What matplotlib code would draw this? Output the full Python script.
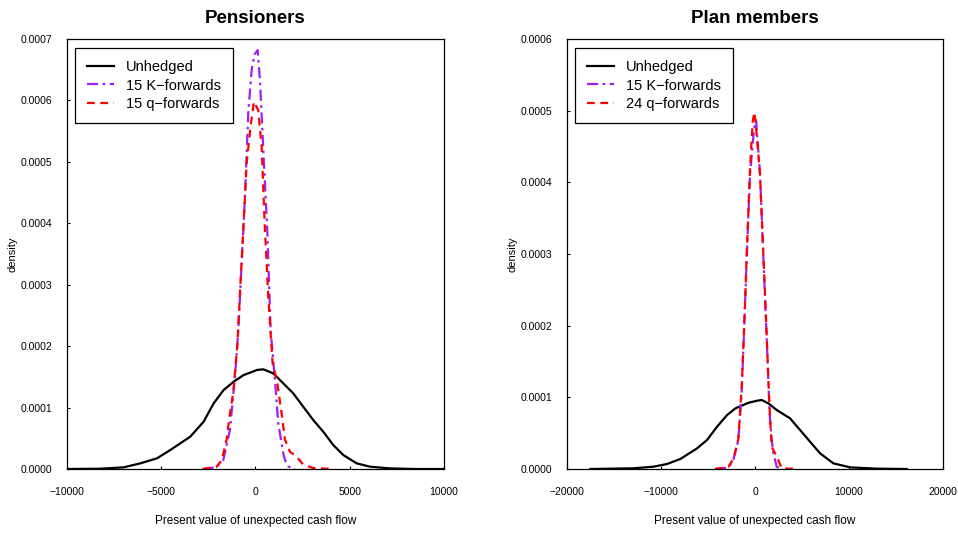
import matplotlib
matplotlib.use("Agg")
import matplotlib.pyplot as plt
from matplotlib.ticker import FixedLocator, FuncFormatter
from matplotlib.lines import Line2D

plt.rcParams["font.family"] = ["Liberation Sans", "DejaVu Sans"]
plt.rcParams["axes.unicode_minus"] = True

# ---- Pensioners (left panel) ----
pen_unhedged_x = [-10000, -8233, -6993, -6110, -5225, -4520, -3459, -2750, -2218, -1688,
                  -1158, -627, -292, 80, 415, 944, 1475, 2005, 2536, 3066, 3597, 4127,
                  4658, 5369, 6074, 7135, 8500, 10000]
pen_unhedged_y = [0.0, 0.005e-4, 0.027e-4, 0.092e-4, 0.174e-4, 0.309e-4, 0.526e-4,
                  0.770e-4, 1.069e-4, 1.286e-4, 1.421e-4, 1.530e-4, 1.568e-4, 1.612e-4,
                  1.623e-4, 1.558e-4, 1.395e-4, 1.232e-4, 1.014e-4, 0.798e-4, 0.607e-4,
                  0.391e-4, 0.228e-4, 0.092e-4, 0.038e-4, 0.01e-4, 0.0, 0.0]

pen_k_x = [-2800, -2100, -1706, -1353, -1088, -910, -733, -557, -380, -200, -50, 117,
           239, 451, 627, 805, 1034, 1210, 1475, 1565, 1741, 1830, 2100]
pen_k_y = [0.0, 0.03e-4, 0.147e-4, 0.635e-4, 1.50e-4, 2.26e-4, 3.35e-4, 4.43e-4, 5.80e-4,
           6.50e-4, 6.75e-4, 6.82e-4, 6.33e-4, 4.98e-4, 3.89e-4, 2.26e-4, 1.45e-4,
           0.744e-4, 0.255e-4, 0.15e-4, 0.043e-4, 0.03e-4, 0.0]

pen_q_x = [-2800, -2058, -1793, -1528, -1400, -1178, -966, -785, -647, -467, -239, -80,
           150, 328, 504, 681, 911, 1150, 1388, 1565, 1830, 2185, 2536, 3060, 4130]
pen_q_y = [0.0, 0.038e-4, 0.14e-4, 0.478e-4, 0.80e-4, 1.25e-4, 1.99e-4, 3.08e-4, 3.89e-4,
           4.98e-4, 5.63e-4, 5.98e-4, 5.84e-4, 5.25e-4, 3.89e-4, 2.80e-4, 1.72e-4,
           1.42e-4, 0.907e-4, 0.478e-4, 0.282e-4, 0.20e-4, 0.071e-4, 0.016e-4, 0.0]

# ---- Plan members (right panel) ----
mem_unhedged_x = [-17520, -12910, -10780, -9363, -7945, -6171, -5107, -4043, -2979, -2093,
                  -851, -532, 213, 709, 1419, 2305, 3724, 4788, 5852, 6916, 8335, 10108,
                  12950, 16140]
mem_unhedged_y = [0.0, 0.01e-4, 0.033e-4, 0.07e-4, 0.14e-4, 0.288e-4, 0.405e-4, 0.59e-4,
                  0.753e-4, 0.846e-4, 0.916e-4, 0.930e-4, 0.953e-4, 0.963e-4, 0.916e-4,
                  0.823e-4, 0.707e-4, 0.544e-4, 0.381e-4, 0.219e-4, 0.079e-4, 0.023e-4,
                  0.005e-4, 0.0]

mem_k_x = [-4255, -2840, -2309, -1950, -1777, -1415, -1138, -883, -532, -100, 106, 532,
           883, 1245, 1522, 1596, 1777, 1950, 2128, 2310, 3000]
mem_k_y = [0.0, 0.02e-4, 0.126e-4, 0.311e-4, 0.405e-4, 1.10e-4, 2.03e-4, 2.96e-4, 4.12e-4,
           4.75e-4, 4.87e-4, 4.12e-4, 2.96e-4, 1.80e-4, 0.869e-4, 0.684e-4, 0.405e-4,
           0.219e-4, 0.126e-4, 0.03e-4, 0.0]

mem_q_x = [-4255, -2840, -2309, -1950, -1777, -1415, -1138, -883, -532, -250, -74, 150,
           532, 883, 1245, 1420, 1600, 1777, 2309, 2840, 4500]
mem_q_y = [0.0, 0.03e-4, 0.14e-4, 0.32e-4, 0.42e-4, 1.15e-4, 2.05e-4, 3.00e-4, 4.20e-4,
           4.85e-4, 4.98e-4, 4.70e-4, 4.10e-4, 3.00e-4, 1.85e-4, 1.24e-4, 0.70e-4,
           0.311e-4, 0.172e-4, 0.01e-4, 0.0]

titles = ["Pensioners", "Plan members"]
legend_labels = [["Unhedged", "15 K\u2212forwards", "15 q\u2212forwards"],
                 ["Unhedged", "15 K\u2212forwards", "24 q\u2212forwards"]]
xticks = [[-10000, -5000, 0, 5000, 10000], [-20000, -10000, 0, 10000, 20000]]
yticks = [[0.0, 0.0001, 0.0002, 0.0003, 0.0004, 0.0005, 0.0006, 0.0007],
          [0.0, 0.0001, 0.0002, 0.0003, 0.0004, 0.0005, 0.0006]]

PURPLE = "#A020F0"
RED = "#FF0000"
DASHDOT = (0, (5, 2, 1.2, 2))
DASHED = (0, (3.5, 2.5))

panels = [
    (pen_unhedged_x, pen_unhedged_y, pen_k_x, pen_k_y, pen_q_x, pen_q_y),
    (mem_unhedged_x, mem_unhedged_y, mem_k_x, mem_k_y, mem_q_x, mem_q_y),
]

fig = plt.figure(figsize=(9.58, 5.34), dpi=100)
ax_rects = [[0.0699, 0.1217, 0.3935, 0.8052], [0.5919, 0.1217, 0.3925, 0.8052]]

for i, (ux, uy, kx, ky, qx, qy) in enumerate(panels):
    ax = fig.add_axes(ax_rects[i])
    ax.plot(ux, uy, color="black", lw=1.6, solid_joinstyle="round")
    ax.plot(kx, ky, color=PURPLE, lw=1.6, linestyle=DASHDOT)
    ax.plot(qx, qy, color=RED, lw=1.6, linestyle=DASHED)

    ax.set_xlim(xticks[i][0], xticks[i][-1])
    ax.set_ylim(yticks[i][0], yticks[i][-1])
    ax.xaxis.set_major_locator(FixedLocator(xticks[i]))
    ax.yaxis.set_major_locator(FixedLocator(yticks[i]))
    ax.xaxis.set_major_formatter(FuncFormatter(lambda v, p: f"{v:.0f}".replace("-", "\u2212")))
    ax.yaxis.set_major_formatter(FuncFormatter(lambda v, p: f"{v:.4f}"))
    ax.tick_params(axis="both", direction="in", length=2.5, width=0.8, labelsize=7.5)
    ax.tick_params(axis="x", pad=13)
    ax.tick_params(axis="y", pad=10.8)
    for s in ax.spines.values():
        s.set_linewidth(0.9)

    ax.set_title(titles[i], fontsize=13.5, fontweight="bold", pad=11.5)
    ax.set_xlabel("Present value of unexpected cash flow", fontsize=8.5, labelpad=13)
    ax.set_ylabel("density", fontsize=8, labelpad=2)

    handles = [
        Line2D([], [], color="black", lw=1.6),
        Line2D([], [], color=PURPLE, lw=1.6, linestyle=DASHDOT),
        Line2D([], [], color=RED, lw=1.6, linestyle=DASHED),
    ]
    leg = ax.legend(handles, legend_labels[i], loc="upper left",
                    bbox_to_anchor=(0.021, 0.978), borderaxespad=0,
                    fontsize=10.5, frameon=True, fancybox=False, framealpha=1,
                    edgecolor="black", borderpad=0.8, labelspacing=0.3,
                    handlelength=1.9, handletextpad=0.8)
    leg.get_frame().set_linewidth(0.9)

fig.savefig("out.png", dpi=100)
